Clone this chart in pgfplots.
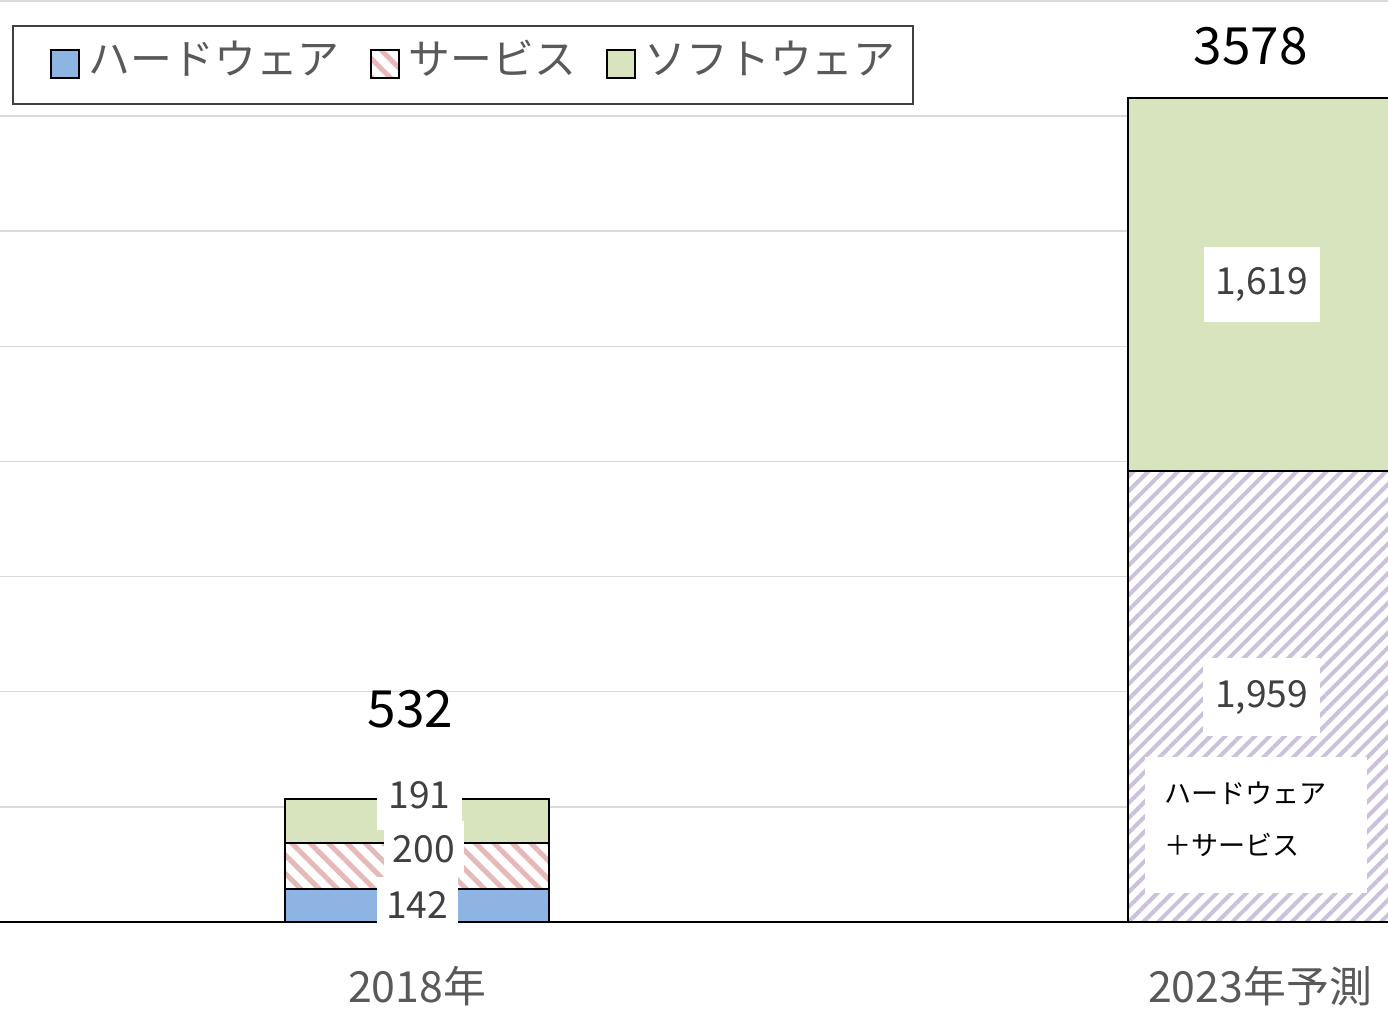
\documentclass[border=0pt]{standalone}
\usepackage{fontspec}
\setmainfont{Noto Sans CJK JP}
\usepackage{pgfplots}
\pgfplotsset{compat=1.18}
\usetikzlibrary{patterns.meta}

\definecolor{hwblue}{HTML}{8EB4E3}
\definecolor{swgreen}{HTML}{D7E4BD}
\definecolor{svpink}{HTML}{E6B9B8}
\definecolor{hwslav}{HTML}{CCC1DA}
\definecolor{gridgray}{HTML}{D9D9D9}
\definecolor{labelgray}{HTML}{595959}
\definecolor{valgray}{HTML}{404040}

\begin{document}
\begin{tikzpicture}
\begin{axis}[
    at={(0,0)}, anchor=south west,
    scale only axis, width=138.8mm, height=92.1mm,
    xmin=-0.4947, xmax=1.1518, ymin=0, ymax=4000,
    ybar stacked, bar width=26.4mm,
    axis line style={draw=none},
    ytick={500,1000,...,4000}, yticklabels={},
    ymajorgrids, grid style={draw=gridgray, line width=0.15mm},
    extra y ticks={0}, extra y tick labels={},
    extra y tick style={grid style={draw=black, line width=0.2mm}},
    major tick length=0pt,
    xtick={0,1}, xticklabels={2018年,2023年予測},
    xticklabel style={anchor=base, yshift=-8.1mm,
        font=\fontsize{12.2pt}{14pt}\selectfont, text=labelgray},
    legend columns=3,
    legend image code/.code={
        \path (0,0);
        \draw[#1, line width=0.18mm] (2mm,-0.4mm) rectangle (4.8mm,2.4mm);
    },
    legend style={at={(rel axis cs:0.00865,0.9739)}, anchor=north west,
        draw=valgray, line width=0.2mm, fill=white,
        inner xsep=1.7mm, inner ysep=1.9mm,
        cells={anchor=base west},
        nodes={inner sep=0pt, text height=2.9mm, text depth=1.1mm,
            text=labelgray, font=\fontsize{11.9pt}{14pt}\selectfont},
        /tikz/every odd column/.append style={column sep=0.9mm},
        /tikz/every even column/.append style={column sep=1.0mm}},
]
% 2018, 2023 forecast
\addplot[fill=hwblue, draw=black, line width=0.18mm]
    coordinates {(0,142) (1,0)};
\addlegendentry{ハードウェア}
\addplot[pattern={Lines[angle=-45,distance=1.3mm,line width=0.5mm]},
    pattern color=svpink, preaction={fill=white}, draw=black, line width=0.18mm]
    coordinates {(0,200) (1,0)};
\addlegendentry{サービス}
\addplot[forget plot, pattern={Lines[angle=45,distance=1.05mm,line width=0.4mm]},
    pattern color=hwslav, preaction={fill=white}, draw=black, line width=0.18mm]
    coordinates {(0,0) (1,1959)};
\addplot[fill=swgreen, draw=black, line width=0.18mm]
    coordinates {(0,191) (1,1619)};
\addlegendentry{ソフトウェア}

% label positions
\coordinate (l191) at (axis cs:0.003,551);
\coordinate (l200) at (axis cs:0.008,317);
\coordinate (l142) at (axis cs:0.0,75);
\coordinate (l1619) at (axis cs:1.002,2769);
\coordinate (l1959) at (axis cs:1.002,977);
\coordinate (lnote) at (axis cs:0.995,421);
\coordinate (t2018) at (axis cs:-0.008,925);
\coordinate (t2023) at (axis cs:0.989,3802);
\end{axis}

\tikzset{vlab/.style={fill=white, inner sep=0pt, text=valgray,
    font=\fontsize{10.6pt}{12pt}\selectfont}}
\node[vlab, minimum width=8.5mm, minimum height=7mm] at (l191) {191};
\node[vlab, minimum width=8.0mm, minimum height=5.6mm] at (l200) {200};
\node[vlab, minimum width=8.1mm, minimum height=5.6mm] at (l142) {142};
\node[vlab, minimum width=11.6mm, minimum height=7.5mm] at (l1619) {1,619};
\node[vlab, minimum width=11.7mm, minimum height=7.8mm] at (l1959) {1,959};
\node[fill=white, inner sep=0pt, minimum width=22.2mm, minimum height=13.6mm] at (lnote) {};
\node[anchor=west, inner sep=0pt, align=left, font=\fontsize{7.7pt}{14.8pt}\selectfont]
    at ([xshift=-9.2mm, yshift=0.6mm]lnote) {ハードウェア\\＋サービス};
\node[font=\fontsize{14.6pt}{16pt}\selectfont] at (t2018) {532};
\node[font=\fontsize{14.6pt}{16pt}\selectfont] at (t2023) {3578};

\pgfresetboundingbox
\path[use as bounding box] (0,-8.9mm) rectangle (138.8mm,92.2mm);
\end{tikzpicture}
\end{document}
